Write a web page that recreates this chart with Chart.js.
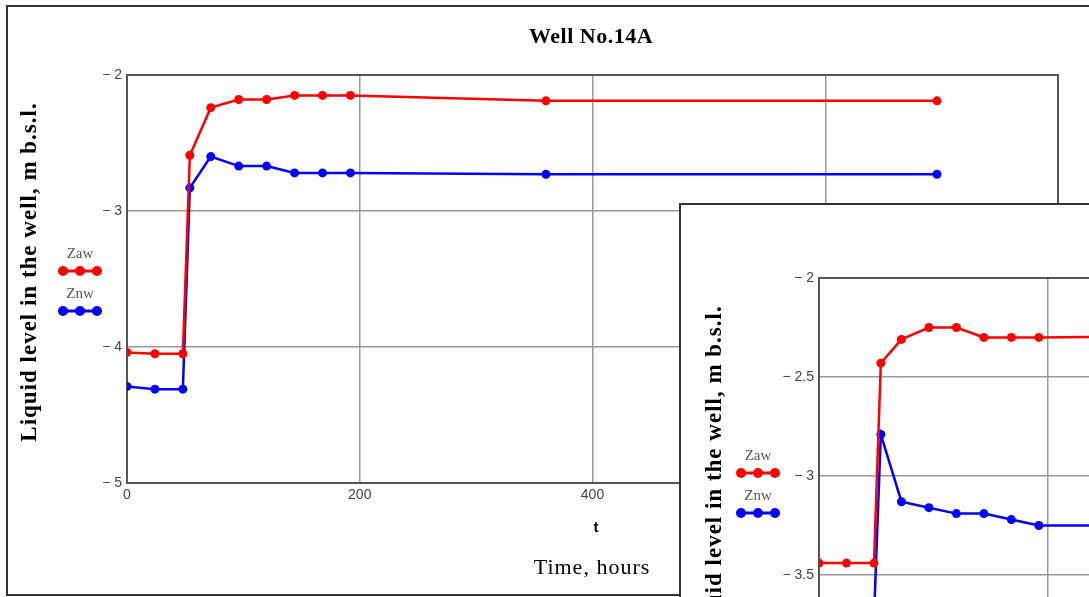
<!DOCTYPE html>
<html>
<head>
<meta charset="utf-8">
<script src="https://cdn.jsdelivr.net/npm/chart.js@4.4.1/dist/chart.umd.min.js"></script>
<style>
  html, body { margin: 0; padding: 0; background: #fff; overflow: hidden; width: 1089px; height: 597px; position: relative; }
  canvas { position: absolute; }
  #main { left: 0; top: 0; }
  #inset { left: 679px; top: 203px; background: #fff; }
</style>
</head>
<body>
<canvas id="main" width="1089" height="597"></canvas>
<canvas id="inset" width="1100" height="700"></canvas>
<script>
// time, hours
const hours = [0, 24, 48, 54, 72, 96, 120, 144, 168, 192, 360, 696];

// main plot
const zawMain = [-4.04, -4.05, -4.05, -2.59, -2.24, -2.18, -2.18, -2.15, -2.15, -2.15, -2.19, -2.19];
const znwMain = [-4.29, -4.31, -4.31, -2.83, -2.60, -2.67, -2.67, -2.72, -2.72, -2.72, -2.73, -2.73];

// inset plot
const zawInset = [-3.44, -3.44, -3.44, -2.43, -2.31, -2.25, -2.25, -2.30, -2.30, -2.30, -2.29, -2.29];
const znwInset = [-3.72, -3.72, -3.72, -2.79, -3.13, -3.16, -3.19, -3.19, -3.22, -3.25, -3.25, -3.25];

const seriesNames = ["Zaw", "Znw"];
const seriesColors = ["#ff0000", "#0000ff"];

const chartTitle = "Well No.14A";
const yTitle = "Liquid level in the well, m b.s.l.";
const xTitle = "Time, hours";
const xVar = "t";

const serif = "'Liberation Serif', 'Times New Roman', serif";
const sans = "'Liberation Sans', Arial, sans-serif";

function minusLabel(v) {
  return v < 0 ? "\u2212 " + Math.abs(v) : String(v);
}

function pts(vals) {
  return hours.map((t, i) => ({ x: t, y: vals[i] }));
}

function drawLegend(ctx, x, y) {
  // x = centre of legend, y = text of first entry
  seriesNames.forEach((name, i) => {
    const ty = y + i * 40;
    ctx.fillStyle = "#555";
    ctx.font = "15px " + serif;
    ctx.textAlign = "center";
    ctx.textBaseline = "middle";
    ctx.fillText(name, x, ty);
    const ly = ty + 17;
    ctx.strokeStyle = seriesColors[i];
    ctx.fillStyle = seriesColors[i];
    ctx.lineWidth = 3;
    ctx.beginPath();
    ctx.moveTo(x - 18, ly);
    ctx.lineTo(x + 18, ly);
    ctx.stroke();
    [-17, 0, 17].forEach(dx => {
      ctx.beginPath();
      ctx.arc(x + dx, ly, 5, 0, Math.PI * 2);
      ctx.fill();
    });
  });
}

function decor(cfg) {
  return {
    id: "decor",
    beforeDraw(chart) {
      const ctx = chart.ctx;
      ctx.save();
      ctx.strokeStyle = "#333";
      ctx.lineWidth = 2;
      ctx.strokeRect(cfg.frame[0], cfg.frame[1], cfg.frame[2], cfg.frame[3]);
      ctx.restore();
    },
    beforeDatasetsDraw(chart) {
      const a = chart.chartArea;
      const ctx = chart.ctx;
      ctx.save();
      ctx.strokeStyle = "#555";
      ctx.lineWidth = 2;
      ctx.strokeRect(a.left, a.top, a.right - a.left, a.bottom - a.top);
      ctx.restore();
    },
    afterDraw(chart) {
      const ctx = chart.ctx;
      ctx.save();
      // y axis title
      ctx.translate(cfg.yTitle[0], cfg.yTitle[1]);
      ctx.rotate(-Math.PI / 2);
      ctx.fillStyle = "#000";
      ctx.font = "bold 23px " + serif;
      ctx.letterSpacing = "1px";
      ctx.textAlign = "center";
      ctx.textBaseline = "middle";
      ctx.fillText(yTitle, 0, 0);
      ctx.restore();

      ctx.save();
      drawLegend(ctx, cfg.legend[0], cfg.legend[1]);
      ctx.restore();

      if (cfg.titles) {
        ctx.save();
        ctx.fillStyle = "#000";
        ctx.textAlign = "center";
        ctx.textBaseline = "middle";
        ctx.font = "bold 22px " + serif;
        ctx.letterSpacing = "0.5px";
        ctx.fillText(chartTitle, 591, 37);
        ctx.letterSpacing = "0px";
        ctx.font = "bold 15px " + sans;
        ctx.fillText(xVar, 596, 528);
        ctx.font = "22px " + serif;
        ctx.letterSpacing = "1px";
        ctx.fillText(xTitle, 592, 568);
        ctx.restore();
      }
    }
  };
}

function makeChart(id, zaw, znw, s) {
  const ctx = document.getElementById(id).getContext("2d");
  return new Chart(ctx, {
    type: "line",
    data: {
      datasets: [
        {
          label: seriesNames[0],
          data: pts(zaw),
          borderColor: seriesColors[0],
          backgroundColor: seriesColors[0],
          pointBackgroundColor: seriesColors[0],
          borderWidth: 2.5,
          pointRadius: 4.5,
          pointBorderWidth: 0,
          tension: 0
        },
        {
          label: seriesNames[1],
          data: pts(znw),
          borderColor: seriesColors[1],
          backgroundColor: seriesColors[1],
          pointBackgroundColor: seriesColors[1],
          borderWidth: 2.5,
          pointRadius: 4.5,
          pointBorderWidth: 0,
          tension: 0
        }
      ]
    },
    options: {
      responsive: false,
      animation: false,
      layout: { padding: { left: 0, top: s.top, right: s.right, bottom: 0 } },
      scales: {
        x: {
          type: "linear",
          min: 0,
          max: 800,
          afterFit: sc => { sc.height = s.bottom; },
          ticks: { stepSize: 200, padding: 4, color: "#444", font: { family: sans, size: 14 } },
          grid: { color: "#9a9a9a", lineWidth: 1.5, drawTicks: false },
          border: { display: false }
        },
        y: {
          min: s.ymin,
          max: -2,
          afterFit: sc => { sc.width = s.left; },
          ticks: { stepSize: s.step, padding: 5, color: "#444", font: { family: sans, size: 14 }, callback: minusLabel },
          grid: { color: "#9a9a9a", lineWidth: 1.5, drawTicks: false },
          border: { display: false }
        }
      },
      plugins: {
        legend: { display: false },
        tooltip: { enabled: false }
      }
    },
    plugins: [decor(s.decor)]
  });
}

// main chart
makeChart("main", zawMain, znwMain, {
  top: 75, right: 31, bottom: 114, left: 127, ymin: -5, step: 1,
  decor: { frame: [7, 6, 1100, 589], yTitle: [30, 272], legend: [80, 254], titles: true }
});

// inset chart
makeChart("inset", zawInset, znwInset, {
  top: 75, right: 44, bottom: 130, left: 140, ymin: -4.5, step: 0.5,
  decor: { frame: [1, 1, 1200, 800], yTitle: [36, 272], legend: [79, 253], titles: false }
});
</script>
</body>
</html>
